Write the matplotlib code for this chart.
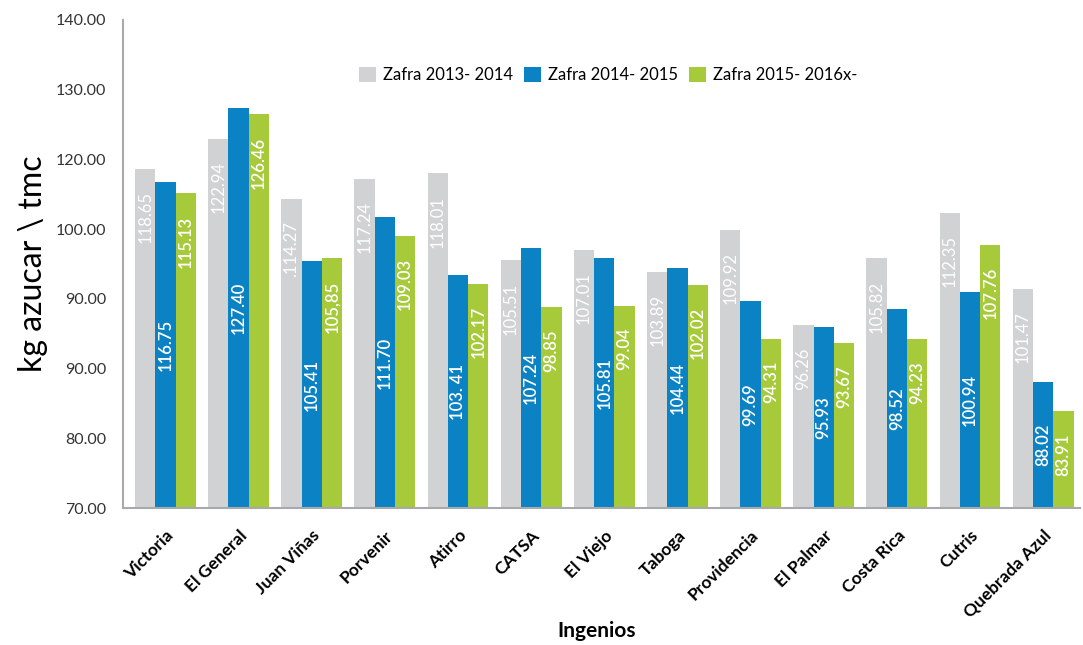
import matplotlib
matplotlib.use("Agg")
import matplotlib.pyplot as plt
import numpy as np

# data
ingenios = ["Victoria", "El General", "Juan Viñas", "Porvenir", "Atirro", "CATSA", "El Viejo",
            "Taboga", "Providencia", "El Palmar", "Costa Rica", "Cutris", "Quebrada Azul"]
zafra_13_14 = [118.65, 122.94, 114.27, 117.24, 118.01, 105.51, 107.01, 103.89, 109.92, 96.26, 105.82, 112.35, 101.47]
zafra_14_15 = [116.75, 127.40, 105.41, 111.70, 103.41, 107.24, 105.81, 104.44, 99.69, 95.93, 98.52, 100.94, 88.02]
zafra_15_16 = [115.13, 126.46, 105.85, 109.03, 102.17, 98.85, 99.04, 102.02, 94.31, 93.67, 94.23, 107.76, 83.91]

# value labels as printed in the original (typos included)
labels_13_14 = ["118.65", "122.94", ".114.27", "117.24", "118.01", "105.51", "107.01", "103.89",
                "109.92", "96.26", "105.82", "112.35", "101.47"]
labels_14_15 = ["116.75", "127.40", "105.41", "111.70", "103. 41", "107.24", "105.81", "104.44",
                "99.69", "95.93", "98.52", "100.94", "88.02"]
labels_15_16 = ["115.13", "126.46", "105,85", "109.03", "102.17", "98.85", "99.04", "102.02",
                "94.31", "93.67", "94.23", "107.76", "83.91"]

series_names = ["Zafra 2013- 2014", "Zafra 2014- 2015", "Zafra 2015- 2016x-"]
y_ticks = [70, 80, 90, 100, 110, 120, 130, 140]
y_tick_labels = ["70.00", "80.00", "90.00", "90.00", "100.00", "120.00", "130.00", "140.00"]

# consts
COLORS = ["#D1D2D4", "#0B82C4", "#A6CA39"]
BAR_W = 0.277
Y_MIN = 70

plt.rcParams['font.family'] = ['Lato', 'DejaVu Sans']

fig = plt.figure(figsize=(10.83, 6.45), dpi=100)
ax = fig.add_axes([0.1136, 0.2124, 0.8834, 0.7566])

x = np.arange(len(ingenios))
all_series = [zafra_13_14, zafra_14_15, zafra_15_16]
all_labels = [labels_13_14, labels_14_15, labels_15_16]

for i, (vals, labs, color, name) in enumerate(zip(all_series, all_labels, COLORS, series_names)):
    xs = x + (i - 1) * BAR_W
    heights = [v - Y_MIN for v in vals]
    ax.bar(xs, heights, BAR_W, bottom=Y_MIN, color=color, label=name, edgecolor='none')
    for xi, v, lab in zip(xs, vals, labs):
        if i == 1:
            # blue labels sit in the middle of the bar
            ax.text(xi, (v + Y_MIN) / 2, lab, rotation=90, ha='center', va='center',
                    color='white', fontsize=12, fontweight='semibold')
        else:
            ax.annotate(lab, (xi, v), xytext=(0, -16), textcoords='offset points',
                        rotation=90, ha='center', va='top', color='white', fontsize=12,
                        fontweight='semibold' if i == 2 else 'normal')

ax.set_ylim(70, 140)
ax.set_xlim(-0.58, 12.5)
ax.set_yticks(y_ticks)
ax.set_yticklabels(y_tick_labels, fontsize=11.5, color='#333333')
ax.tick_params(axis='y', length=0, pad=12)
ax.set_xticks(x)
ax.set_xticklabels(ingenios, rotation=45, ha='right', rotation_mode='anchor',
                   fontsize=12.5, fontweight='bold', color='black')
ax.tick_params(axis='x', length=0, pad=14)

for s in ['top', 'right']:
    ax.spines[s].set_visible(False)
for s in ['left', 'bottom']:
    ax.spines[s].set_color('#A7A9AC')
    ax.spines[s].set_linewidth(1.5)

ax.set_ylabel("kg azucar \\ tmc", fontsize=23, fontweight='normal', color='black', labelpad=6)
# x title placed directly in figure coords so the long rotated labels don't push it off
fig.text(0.551, 0.006, "Ingenios", ha='center', va='bottom', fontsize=15, fontweight='bold', color='black')

ax.legend(loc='center', bbox_to_anchor=(0.507, 0.887), ncol=3, frameon=False, fontsize=12,
          handlelength=1.0, handleheight=1.0, handletextpad=0.4, columnspacing=0.7)

fig.savefig("out.png", dpi=100)
